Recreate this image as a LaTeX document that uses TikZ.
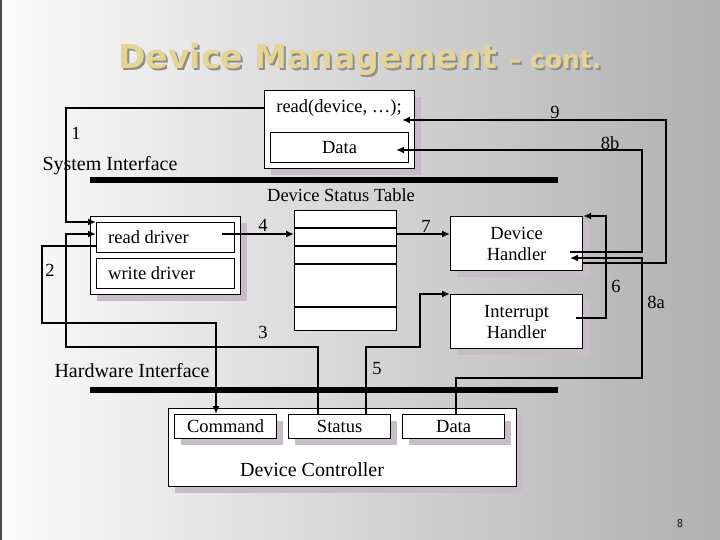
\documentclass[tikz,border=0pt]{standalone}
\usepackage{fontspec}
\setmainfont{Liberation Serif}
\newfontfamily\titlefont{DejaVu Sans}
\usetikzlibrary{arrows.meta,shadows}
\begin{document}
\begin{tikzpicture}[x=1pt,y=-1pt,
  lbl/.style={font=\fontsize{18.5}{20}\selectfont,inner sep=0pt},
  big/.style={font=\fontsize{20}{22}\selectfont,inner sep=0pt},
  bx/.style={draw=black,fill=white,line width=1.2pt,inner sep=0pt,anchor=north west},
  shbx/.style={bx,drop shadow={shadow xshift=6pt,shadow yshift=-6pt,fill=violet!15!gray!45,opacity=1}},
  con/.style={line width=2.8pt},
  arr/.style={con,-{Latex[length=8pt,width=7pt]}},
  bar/.style={line width=6pt}]
\shade[left color=gray!3,right color=gray!62] (0,0) rectangle (720,540);
\useasboundingbox (0,0) rectangle (720,540);
\draw[gray!60!black,line width=2pt] (1,0) -- (1,540);
% title
\node[font=\titlefont\bfseries\fontsize{33}{36}\selectfont,text=black!45,anchor=center] (titlesh) at (362,62) {Device Management \fontsize{25}{28}\selectfont – cont.};
\node[font=\titlefont\bfseries\fontsize{33}{36}\selectfont,text={rgb,255:red,228;green,212;blue,150},anchor=center] (title) at (360,60) {Device Management \fontsize{25}{28}\selectfont – cont.};
% top box
\node[shbx,minimum width=150pt,minimum height=78pt] (top) at (264,90) {};
\node[lbl] (readcall) at (339,108) {read(device, \dots);};
\node[bx,minimum width=138pt,minimum height=30pt] (data1) at (270,132) {};
\node[lbl] at (data1.center) {Data};
% bars
\draw[bar] (90,180) coordinate (sib1) -- (558,180) coordinate (sib2);
\draw[bar] (90,390) coordinate (hib1) -- (558,390) coordinate (hib2);
\node[big] (si) at (110,166) {System Interface};
\node[big] (hi) at (132,371) {Hardware Interface};
\node[lbl] (dst) at (341,195) {Device Status Table};
% driver box
\node[shbx,minimum width=150pt,minimum height=78pt] (drv) at (90,216) {};
\node[bx,minimum width=138pt,minimum height=30pt] (rd) at (96,222) {};
\node[lbl,anchor=west] at (108,237) {read driver};
\node[bx,minimum width=138pt,minimum height=30pt] (wd) at (96,258) {};
\node[lbl,anchor=west] at (108,273) {write driver};
% status table
\node[bx,minimum width=102pt,minimum height=120pt] (tab) at (294,210) {};
\foreach \yy in {228,246,264,307} \draw[line width=1.2pt] (294,\yy) -- (396,\yy);
% handlers
\node[shbx,minimum width=132pt,minimum height=54pt] (dh) at (450,216) {};
\node[lbl,align=center,font=\fontsize{18.5}{21}\selectfont] at (dh.center) {Device\\Handler};
\node[shbx,minimum width=132pt,minimum height=54pt] (ih) at (450,294) {};
\node[lbl,align=center,font=\fontsize{18.5}{21}\selectfont] at (ih.center) {Interrupt\\Handler};
% device controller
\node[shbx,minimum width=348pt,minimum height=78pt] (dc) at (168,408) {};
\node[shbx,minimum width=102pt,minimum height=24pt] (cmd) at (174,414) {};
\node[lbl] at (cmd.center) {Command};
\node[shbx,minimum width=102pt,minimum height=24pt] (st) at (288,414) {};
\node[lbl] at (st.center) {Status};
\node[shbx,minimum width=102pt,minimum height=24pt] (dd) at (402,414) {};
\node[lbl] at (dd.center) {Data};
\node[big] at (312,470) {Device Controller};
% connectors
\draw[arr] (top.west |- 0,108) -- (66,108) -- (66,222) -- (rd.north west);
\draw[arr] (rd.west |- 0,246) -- (42,246) -- (42,323) -- (216,323) -- (cmd.north -| 216,0);
\draw[arr] (st.north -| 318,0) -- (318,347) -- (66,347) -- (66,234) -- (rd.west |- 0,234);
\draw[arr] (222,234) -- (tab.west |- 0,234);
\draw[arr] (tab.east |- 0,234) -- (dh.west |- 0,234);
\draw[arr] (st.north -| 366,0) -- (366,347) -- (420,347) -- (420,294) -- (ih.north west);
\draw[arr] (576,318) -- (606,318) -- (606,216) -- (dh.north east);
\draw[arr] (570,252) -- (642,252) -- (642,150) -- (396,150);
\draw[arr] (dd.north -| 456,0) -- (456,378) -- (642,378) -- (642,258) -- (570,258);
\draw[arr] (dh.east |- 0,263) -- (666,263) -- (666,120) -- (402,120);
% labels
\node[lbl] at (76,133) {1};
\node[lbl] at (50,270) {2};
\node[lbl] at (263,332) {3};
\node[lbl] at (263,225) {4};
\node[lbl] at (377,369) {5};
\node[lbl] at (616,286) {6};
\node[lbl] at (426,226) {7};
\node[lbl] at (656,302) {8a};
\node[lbl] at (610,143) {8b};
\node[lbl] at (555,112) {9};
\node[font=\sffamily\fontsize{12}{14}\selectfont] at (680,524) {8};
\end{tikzpicture}
\end{document}
